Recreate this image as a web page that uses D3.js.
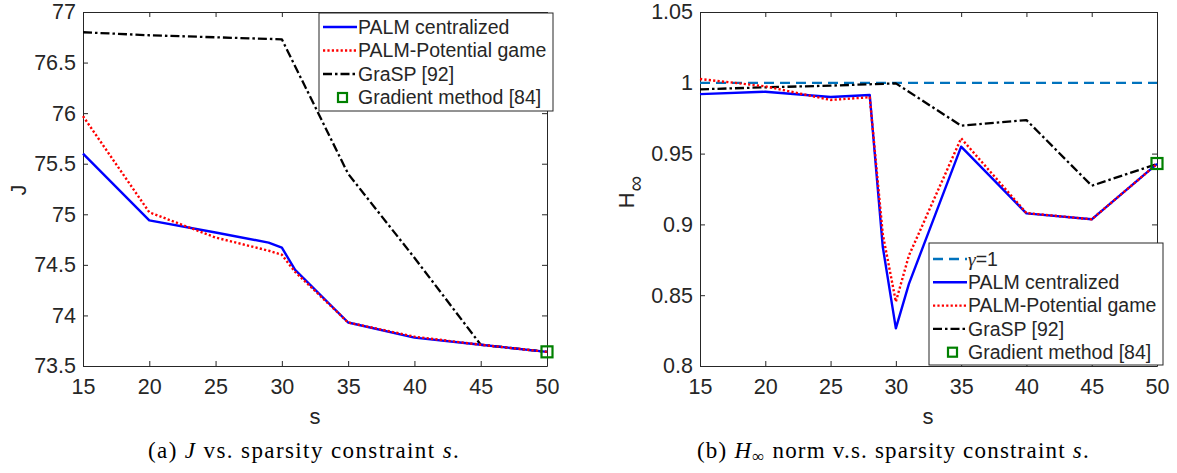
<!DOCTYPE html>
<html>
<head>
<meta charset="utf-8">
<script src="https://cdn.jsdelivr.net/npm/d3@7"></script>
<style>
  html, body { margin: 0; padding: 0; background: #fff; }
  svg { display: block; }
</style>
</head>
<body>
<svg id="fig" width="1177" height="473"></svg>
<script>
// ---- data -------------------------------------------------------------
const xTicks = [15, 20, 25, 30, 35, 40, 45, 50];

// (a) cost J versus sparsity level s
const sPalmJ = [15, 20, 25, 29, 30, 31, 35, 40, 45, 50];
const jPalmCentral = [75.60, 74.94, 74.82, 74.72, 74.67, 74.45, 73.93, 73.78, 73.71, 73.64];
const jPalmGame    = [75.97, 75.02, 74.77, 74.64, 74.60, 74.43, 73.93, 73.79, 73.71, 73.64];
const sGrasp = [15, 20, 25, 30, 35, 40, 45, 50];
const jGrasp = [76.80, 76.77, 76.75, 76.73, 75.40, 74.57, 73.71, 73.64];
const jTicks = [73.5, 74, 74.5, 75, 75.5, 76, 76.5, 77];
const jGradient = [{ s: 50, v: 73.64 }];

// (b) H-infinity norm versus sparsity level s
const sPalmH = [15, 20, 25, 28, 29, 30, 31, 35, 40, 45, 50];
const hPalmCentral = [0.9920, 0.9937, 0.9900, 0.9914, 0.8840, 0.8266, 0.8580, 0.9549, 0.9078, 0.9036, 0.9427];
const hPalmGame    = [1.0027, 0.9975, 0.9879, 0.9898, 0.8930, 0.8454, 0.8780, 0.9608, 0.9080, 0.9036, 0.9427];
const hGrasp = [0.9954, 0.9968, 0.9980, 0.9996, 0.9697, 0.9737, 0.9273, 0.9427];
const gammaLevel = 1;
const hTicks = [0.8, 0.85, 0.9, 0.95, 1, 1.05];
const hGradient = [{ s: 50, v: 0.943 }];

// ---- styles -----------------------------------------------------------
const AX = "#262626";
const FONT = "'Liberation Sans', Arial, Helvetica, sans-serif";
const SERIF = "'Liberation Serif', 'Times New Roman', serif";
const styles = {
  central: { stroke: "#0000ff", dash: null, width: 2.4 },
  game:    { stroke: "#ff0000", dash: "2.2,2.2", width: 2.4 },
  grasp:   { stroke: "#000000", dash: "9,3,2.5,3", width: 2.3 },
  gamma:   { stroke: "#0072bd", dash: "10,6", width: 2.3 },
};

const svg = d3.select("#fig");

function panel(opts) {
  const { left, right, top, bottom, yDomain, yTicks, yFmt } = opts;
  const x = d3.scaleLinear().domain([15, 50]).range([left, right]);
  const y = d3.scaleLinear().domain(yDomain).range([bottom, top]);
  const g = svg.append("g");

  const tickLen = 5;
  // bottom axis (ticks point inward)
  const xb = g.append("g").attr("transform", `translate(0,${bottom})`)
    .call(d3.axisBottom(x).tickValues(xTicks).tickSizeInner(-tickLen).tickSizeOuter(0).tickPadding(13).tickFormat(d3.format("d")));
  // top edge of the box: ticks only
  const xt = g.append("g").attr("transform", `translate(0,${top})`)
    .call(d3.axisTop(x).tickValues(xTicks).tickSizeInner(-tickLen).tickSizeOuter(0).tickFormat(""));
  // left axis
  const yl = g.append("g").attr("transform", `translate(${left},0)`)
    .call(d3.axisLeft(y).tickValues(yTicks).tickSizeInner(-tickLen).tickSizeOuter(0).tickPadding(7).tickFormat(yFmt));
  // right edge of the box: ticks only
  const yr = g.append("g").attr("transform", `translate(${right},0)`)
    .call(d3.axisRight(y).tickValues(yTicks).tickSizeInner(-tickLen).tickSizeOuter(0).tickFormat(""));
  [xb, xt, yl, yr].forEach(a => {
    a.select(".domain").attr("stroke", AX).attr("stroke-width", 1);
    a.selectAll(".tick line").attr("stroke", AX).attr("stroke-width", 1);
    a.selectAll(".tick text").attr("fill", AX).style("font-size", "21.5px").style("font-family", FONT);
  });

  const plot = g.append("g");
  return { g, plot, x, y };
}

function drawLine(p, xs, ys, st) {
  const line = d3.line().x((d, i) => p.x(xs[i])).y(d => p.y(d));
  p.plot.append("path").datum(ys)
    .attr("d", line)
    .attr("fill", "none")
    .attr("stroke", st.stroke)
    .attr("stroke-width", st.width)
    .attr("stroke-dasharray", st.dash)
    .attr("stroke-linejoin", "round");
}

function drawSquares(p, pts) {
  p.plot.selectAll(null).data(pts).enter().append("rect")
    .attr("x", d => p.x(d.s) - 5.5).attr("y", d => p.y(d.v) - 5.5)
    .attr("width", 11).attr("height", 11)
    .attr("fill", "none").attr("stroke", "#008000").attr("stroke-width", 2.2);
}

function legend(p, box, items) {
  const lg = p.g.append("g");
  lg.append("rect").attr("x", box.x).attr("y", box.y).attr("width", box.w).attr("height", box.h)
    .attr("fill", "#fff").attr("stroke", AX).attr("stroke-width", 1);
  items.forEach((it, i) => {
    const cy = box.y + box.first + i * box.step;
    if (it.square) {
      lg.append("rect").attr("x", box.x + 19).attr("y", cy - 4.5).attr("width", 9).attr("height", 9)
        .attr("fill", "none").attr("stroke", "#008000").attr("stroke-width", 2.2);
    } else {
      lg.append("line").attr("x1", box.x + 4).attr("x2", box.x + 38).attr("y1", cy).attr("y2", cy)
        .attr("stroke", it.st.stroke).attr("stroke-width", it.st.width)
        .attr("stroke-dasharray", it.st.dash);
    }
    const t = lg.append("text").attr("x", box.x + 39).attr("y", cy).attr("dy", "0.35em")
      .attr("fill", AX).style("font-family", FONT).style("font-size", "19.5px");
    if (it.gamma) {
      t.append("tspan").text("γ").style("font-family", SERIF).style("font-style", "italic");
      t.append("tspan").text("=1");
    } else {
      t.text(it.label);
    }
  });
}

// ---- panel (a) --------------------------------------------------------
const pa = panel({ left: 83, right: 547, top: 12, bottom: 366, yDomain: [73.5, 77], yTicks: jTicks, yFmt: d3.format("") });
drawLine(pa, sGrasp, jGrasp, styles.grasp);
drawLine(pa, sPalmJ, jPalmCentral, styles.central);
drawLine(pa, sPalmJ, jPalmGame, styles.game);
drawSquares(pa, jGradient);
legend(pa, { x: 319, y: 13, w: 234, h: 98, first: 14, step: 23.5 }, [
  { label: "PALM centralized", st: styles.central },
  { label: "PALM-Potential game", st: styles.game },
  { label: "GraSP [92]", st: styles.grasp },
  { label: "Gradient method [84]", square: true },
]);
pa.g.append("text").attr("x", 315).attr("y", 424).attr("text-anchor", "middle")
  .attr("fill", AX).style("font-family", FONT).style("font-size", "22px").text("s");
pa.g.append("text").attr("transform", "translate(26,190) rotate(-90)").attr("text-anchor", "middle")
  .attr("fill", AX).style("font-family", FONT).style("font-size", "22px").text("J");

// ---- panel (b) --------------------------------------------------------
const pb = panel({ left: 700, right: 1157, top: 12, bottom: 366, yDomain: [0.8, 1.05], yTicks: hTicks, yFmt: d3.format("") });
drawLine(pb, [15, 50], [gammaLevel, gammaLevel], styles.gamma);
drawLine(pb, sGrasp, hGrasp, styles.grasp);
drawLine(pb, sPalmH, hPalmCentral, styles.central);
drawLine(pb, sPalmH, hPalmGame, styles.game);
drawSquares(pb, hGradient);
legend(pb, { x: 929, y: 243, w: 234, h: 122, first: 16, step: 23.3 }, [
  { gamma: true, st: styles.gamma },
  { label: "PALM centralized", st: styles.central },
  { label: "PALM-Potential game", st: styles.game },
  { label: "GraSP [92]", st: styles.grasp },
  { label: "Gradient method [84]", square: true },
]);
pb.g.append("text").attr("x", 928).attr("y", 424).attr("text-anchor", "middle")
  .attr("fill", AX).style("font-family", FONT).style("font-size", "22px").text("s");
const hl = pb.g.append("text").attr("transform", "translate(634,192) rotate(-90)").attr("text-anchor", "middle")
  .attr("fill", AX).style("font-family", FONT).style("font-size", "22px");
hl.append("tspan").text("H");
hl.append("tspan").attr("dy", 9).attr("dx", 1).style("font-size", "22px").text("∞");

// ---- captions ---------------------------------------------------------
function caption(x0, width, parts) {
  const t = svg.append("text").attr("x", x0).attr("y", 458)
    .attr("fill", "#000").style("font-family", SERIF).style("font-size", "23px");
  parts.forEach(p => {
    const ts = t.append("tspan").text(p.t);
    if (p.i) ts.style("font-style", "italic");
    if (p.sub) ts.attr("dy", 4).style("font-size", "17px");
    if (p.up) ts.attr("dy", -4);
  });
  // widen the spacing a little so the caption spans its full width
  const w = t.node().getComputedTextLength();
  if (w < width) t.style("letter-spacing", ((width - w) / t.text().length).toFixed(2) + "px");
}
caption(148, 312, [{ t: "(a) " }, { t: "J", i: true }, { t: " vs. sparsity constraint " }, { t: "s", i: true }, { t: "." }]);
caption(697, 393, [{ t: "(b) " }, { t: "H", i: true }, { t: "∞", sub: true }, { t: " norm v.s. sparsity constraint ", up: true }, { t: "s", i: true }, { t: "." }]);
</script>
</body>
</html>
